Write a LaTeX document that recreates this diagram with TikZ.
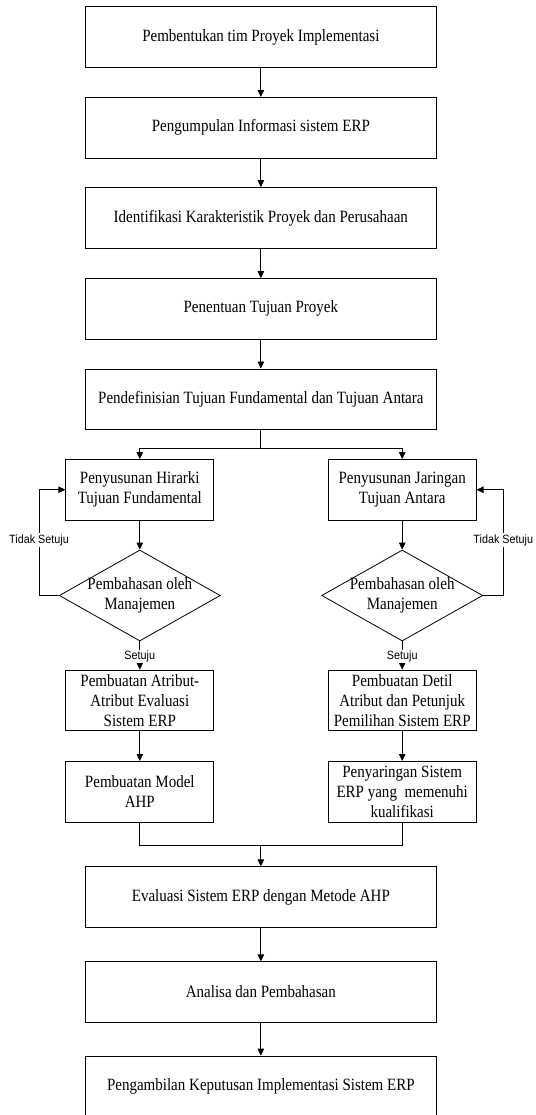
\documentclass[tikz,border=0pt]{standalone}
\usepackage{fontspec}
\setmainfont{Liberation Serif}
\newfontfamily\tallserif[FakeStretch=0.87]{Liberation Serif}
\newfontfamily\sansf[FakeStretch=0.9]{Liberation Sans}
\usetikzlibrary{arrows.meta,shapes.geometric}
\begin{document}
\begin{tikzpicture}[x=1pt,y=-1pt,
  line width=0.8pt,
  txt/.style={font=\tallserif\fontsize{17.25}{20}\selectfont},
  bigbox/.style={draw, rectangle, minimum width=350.3pt, minimum height=60.5pt, inner sep=0pt, txt},
  smallbox/.style={draw, rectangle, minimum width=148pt, minimum height=60.5pt, inner sep=0pt, align=center, txt},
  decbox/.style={draw, diamond, minimum width=161pt, minimum height=91pt, inner sep=0pt},
  dtext/.style={align=center, inner sep=0pt, txt},
  lbl/.style={fill=white, inner sep=1pt, font=\sansf\fontsize{12}{13}\selectfont},
  arr/.style={-{Triangle[length=7pt,width=6.5pt]}}
]
\useasboundingbox (0,0) rectangle (535,1115);
\fill[white] (0,0) rectangle (535,1115);

\node[bigbox] (b1) at (260.85,37) {Pembentukan tim Proyek Implementasi};
\node[bigbox] (b2) at (260.85,127.7) {Pengumpulan Informasi sistem ERP};
\node[bigbox] (b3) at (260.85,217.8) {Identifikasi Karakteristik Proyek dan Perusahaan};
\node[bigbox] (b4) at (260.85,308.8) {Penentuan Tujuan Proyek};
\node[bigbox] (b5) at (260.85,399.2) {Pendefinisian Tujuan Fundamental dan Tujuan Antara};

\node[smallbox] (s1) at (139.8,489.75) {Penyusunan Hirarki\\Tujuan Fundamental};
\node[smallbox] (s2) at (402.2,489.75) {Penyusunan Jaringan\\Tujuan Antara};

\node[decbox, label={[dtext]center:Pembahasan oleh\\Manajemen}] (d1) at (139.8,595.5) {};
\node[decbox, label={[dtext]center:Pembahasan oleh\\Manajemen}] (d2) at (402.2,595.5) {};

\node[smallbox] (a1) at (139.8,700.3) {Pembuatan Atribut-\\Atribut Evaluasi\\Sistem ERP};
\node[smallbox] (a2) at (402.2,700.3) {Pembuatan Detil\\Atribut dan Petunjuk\\Pemilihan Sistem ERP};

\node[smallbox] (m1) at (139.8,791.7) {Pembuatan Model\\AHP};
\node[smallbox] (m2) at (402.2,791.7) {Penyaringan Sistem\\ERP yang\ \ memenuhi\\kualifikasi};

\node[bigbox] (e1) at (260.85,897) {Evaluasi Sistem ERP dengan Metode AHP};
\node[bigbox] (e2) at (260.85,992) {Analisa dan Pembahasan};
\node[bigbox] (e3) at (260.85,1086.3) {Pengambilan Keputusan Implementasi Sistem ERP};

% main chain
\draw[arr] (b1) -- (b2);
\draw[arr] (b2) -- (b3);
\draw[arr] (b3) -- (b4);
\draw[arr] (b4) -- (b5);

% split
\coordinate (sp) at (260.85,448.5);
\draw (b5.south) -- (sp);
\draw[arr] (sp) -| (s1.north);
\draw[arr] (sp) -| (s2.north);

% to diamonds
\draw[arr] (s1) -- (d1);
\draw[arr] (s2) -- (d2);

% feedback loops
\coordinate (lx) at (39,595.5);
\coordinate (rx) at (503.3,595.5);
\draw[arr] (d1.west) -- (lx) |- (s1.west);
\draw[arr] (d2.east) -- (rx) |- (s2.east);

% agree
\draw[arr] (d1.south) -- (a1.north);
\draw[arr] (d2.south) -- (a2.north);

\draw[arr] (a1) -- (m1);
\draw[arr] (a2) -- (m2);

% merge
\coordinate (mg) at (260.85,845);
\draw (m1.south) |- (mg) -| (m2.south);
\draw[arr] (mg) -- (e1.north);

\draw[arr] (e1) -- (e2);
\draw[arr] (e2) -- (e3);

% labels
\node[lbl] (t1) at (39,540) {Tidak Setuju};
\node[lbl] (t2) at (503.3,540) {Tidak Setuju};
\node[lbl] (y1) at (139.8,656.7) {Setuju};
\node[lbl] (y2) at (402.2,656.7) {Setuju};
\end{tikzpicture}
\end{document}
